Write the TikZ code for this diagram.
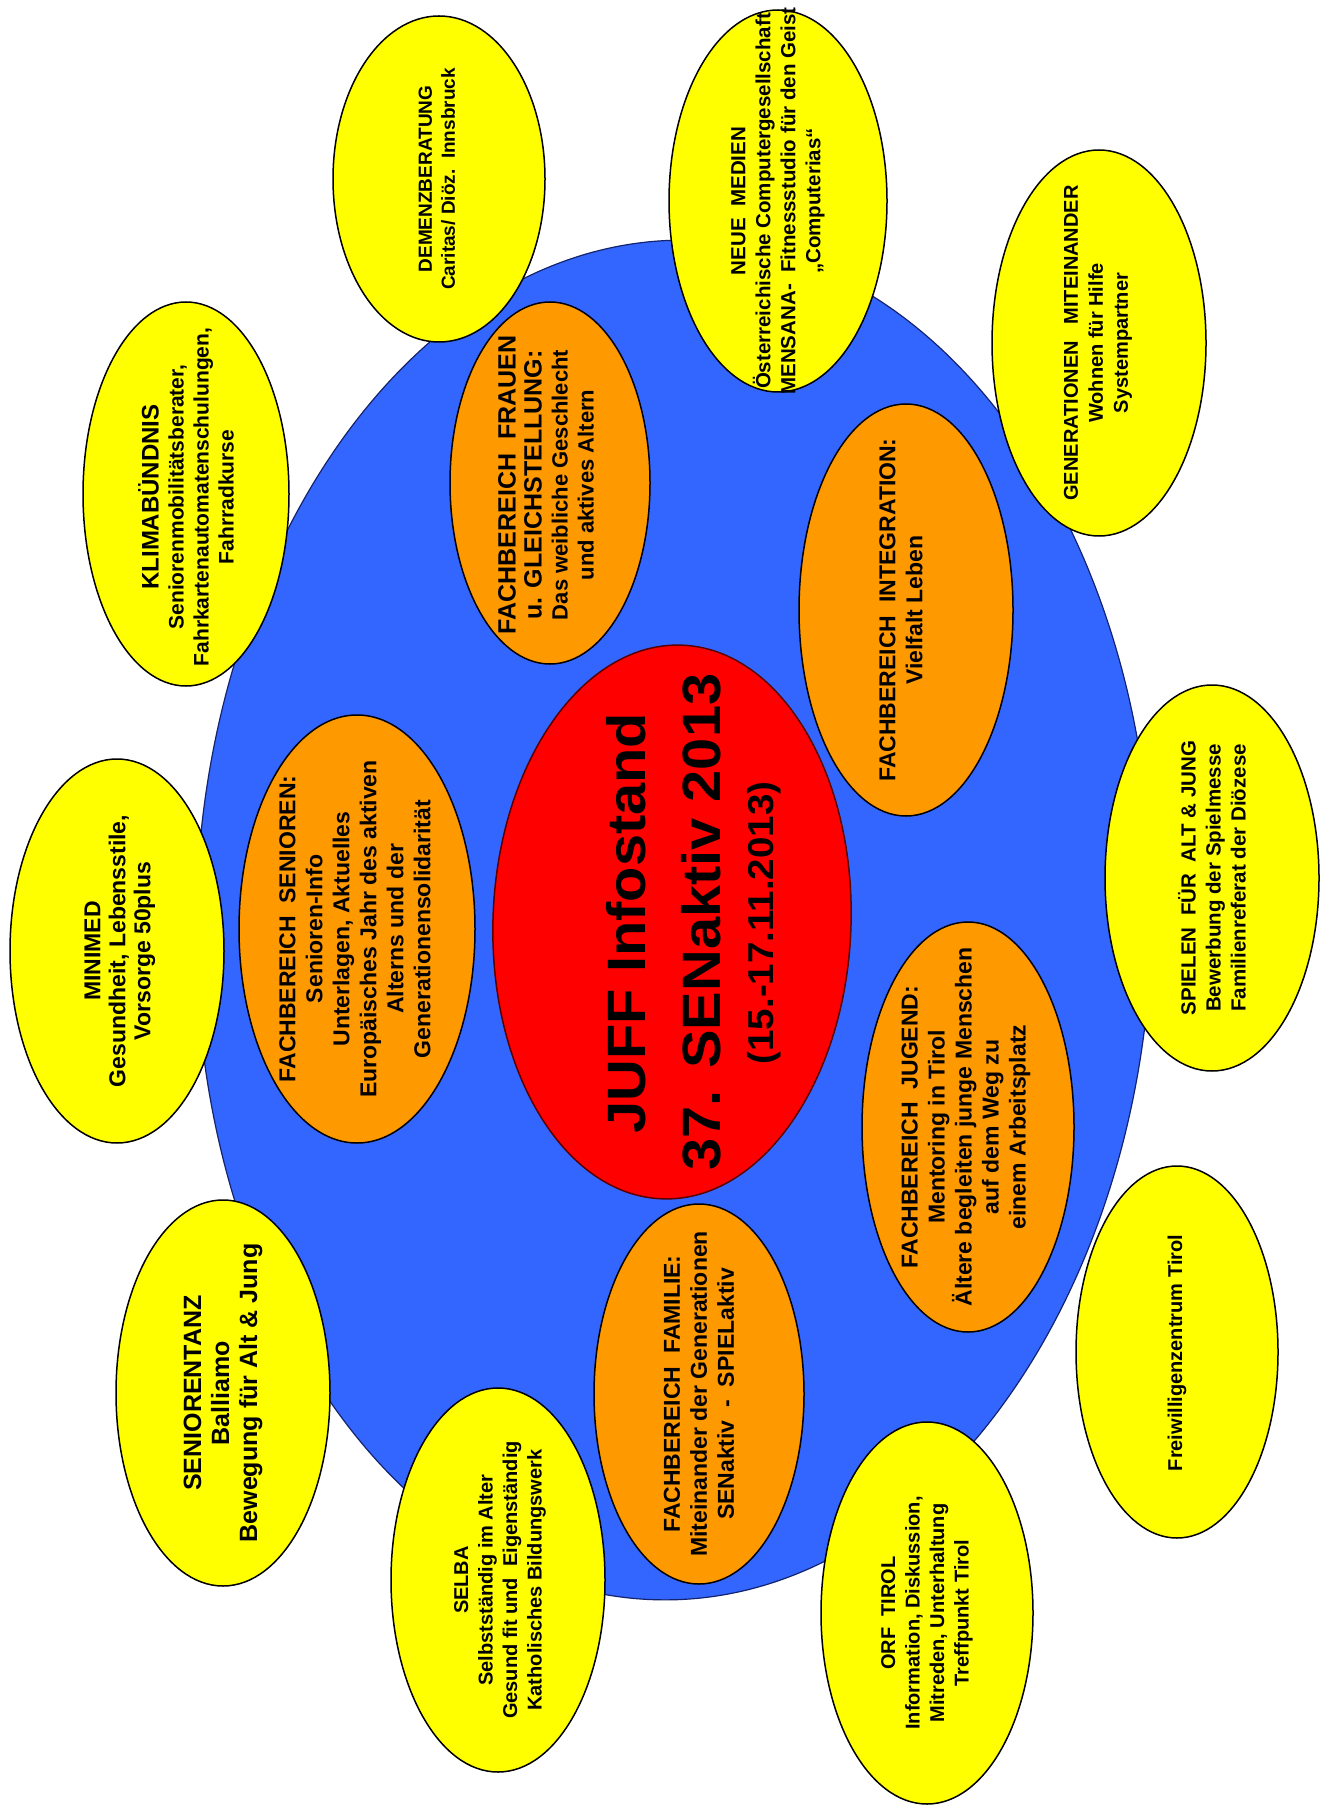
\documentclass[tikz,border=0pt]{standalone}
\usepackage{fontspec}
\setmainfont{Liberation Sans}
\newfontfamily\titlefont[FakeStretch=1.07]{Liberation Sans}
\usetikzlibrary{shapes.geometric}
\definecolor{bluec}{RGB}{51,102,255}
\definecolor{blueedge}{RGB}{20,35,110}
\definecolor{redc}{RGB}{255,0,0}
\definecolor{rededge}{RGB}{90,0,0}
\definecolor{orangec}{RGB}{255,153,0}
\definecolor{yellowc}{RGB}{255,255,0}
\tikzset{
  yel/.style={ellipse, draw=black, line width=0.75pt, fill=yellowc, rotate=90, inner sep=0pt},
  ora/.style={ellipse, draw=black, line width=0.75pt, fill=orangec, rotate=90, inner sep=0pt},
  sz/.style 2 args={minimum width=#1pt, minimum height=#2pt},
  ytxt/.style={rotate=90, align=center, inner sep=0pt, font=\bfseries\fontsize{10}{12.25}\selectfont},
  otxt/.style={rotate=90, align=center, inner sep=0pt, font=\bfseries\fontsize{11.5}{13.5}\selectfont},
  ttl/.style={rotate=90, anchor=base, inner sep=0pt},
}
\begin{document}
\begin{tikzpicture}[x=0.5pt,y=-0.5pt]
\useasboundingbox (0,0) rectangle (1329,1807);
\fill[white] (0,0) rectangle (1329,1807);

% big blue ellipse
\node[ellipse, fill=bluec, draw=blueedge, line width=0.6pt, minimum width=478pt, minimum height=680pt, rotate=-1.5, inner sep=0pt] (blue) at (674,920) {};

% outer yellow ellipses
\node[yel, sz={163}{106}] (demE) at (439,179) {};
\node[ytxt, font=\bfseries\fontsize{9.5}{11.5}\selectfont] (demT) at (437,179) {DEMENZBERATUNG\\Caritas/ Diöz.~~Innsbruck};

\node[yel, sz={192}{103}] (kliE) at (186,494) {};
\node[ytxt, font=\bfseries\fontsize{10.5}{12.5}\selectfont] (kliT) at (186,497) {{\fontsize{12}{13.5}\selectfont KLIMABÜNDNIS}\\Seniorenmobilitätsberater,\\Fahrkartenautomatenschulungen,\\Fahrradkurse};

\node[yel, sz={191}{109}] (neuE) at (778,201) {};
\node[ytxt, font=\bfseries\fontsize{10.25}{12.5}\selectfont] (neuT) at (778,201) {NEUE~~MEDIEN\\Österreichische Computergesellschaft\\MENSANA-~~Fitnessstudio für den Geist\\„Computerias“};

\node[yel, sz={193}{107}] (genE) at (1099,343) {};
\node[ytxt, font=\bfseries\fontsize{10}{12.5}\selectfont] (genT) at (1098,343) {GENERATIONEN~~~MITEINANDER\\Wohnen für Hilfe\\Systempartner};

\node[yel, sz={192}{107}] (minE) at (117,951) {};
\node[ytxt, font=\bfseries\fontsize{11.5}{12.5}\selectfont] (minT) at (120,951) {MINIMED\\Gesundheit, Lebensstile,\\Vorsorge 50plus};

\node[yel, sz={193}{107}] (spiE) at (1212,878) {};
\node[ytxt, font=\bfseries\fontsize{10.25}{12.5}\selectfont] (spiT) at (1212,878) {SPIELEN~~FÜR~~ALT \& JUNG\\Bewerbung der Spielmesse\\Familienreferat der Diözese};

\node[yel, sz={186}{101}] (freE) at (1177,1352) {};
\node[ytxt] (freT) at (1177,1353) {Freiwilligenzentrum Tirol};

\node[yel, sz={191}{106}] (orfE) at (927,1613) {};
\node[ytxt] (orfT) at (927,1613) {ORF~~TIROL\\Information, Diskussion,\\Mitreden, Unterhaltung\\Treffpunkt Tirol};

\node[yel, sz={192}{107}] (selE) at (498,1580) {};
\node[ytxt] (selT) at (500,1580) {SELBA\\Selbstständig im Alter\\Gesund fit und~~Eigenständig\\Katholisches Bildungswerk};

\node[yel, sz={193}{107}] (tanE) at (223,1393) {};
\node[ytxt, font=\bfseries\fontsize{12.5}{14}\selectfont] (tanT) at (223,1393) {SENIORENTANZ\\Balliamo\\Bewegung für Alt \& Jung};

% orange ellipses
\node[ora, sz={181}{100}] (fraE) at (550,483) {};
\node[otxt, font=\bfseries\fontsize{11}{13}\selectfont] (fraT) at (546,485) {{\fontsize{12.5}{13.5}\selectfont FACHBEREICH~~FRAUEN}\\{\fontsize{12.5}{13.5}\selectfont u. GLEICHSTELLUNG:}\\Das weibliche Geschlecht\\und aktives Altern};

\node[ora, sz={214}{118}] (senE) at (357,929) {};
\node[otxt] (senT) at (355,929) {FACHBEREICH~~SENIOREN:\\Senioren-Info\\Unterlagen, Aktuelles\\Europäisches Jahr des aktiven\\Alterns und der\\Generationensolidarität};

\node[ora, sz={206}{107}] (intE) at (906,610) {};
\node[otxt] (intT) at (901,610) {FACHBEREICH~~INTEGRATION:\\Vielfalt Leben};

\node[ora, sz={205}{106}] (jugE) at (968,1127) {};
\node[otxt] (jugT) at (966,1127) {FACHBEREICH~~JUGEND:\\Mentoring in Tirol\\Ältere begleiten junge Menschen\\auf dem Weg zu\\einem Arbeitsplatz};

\node[ora, sz={190}{105}] (famE) at (699,1394) {};
\node[otxt] (famT) at (699,1394) {FACHBEREICH~~FAMILIE:\\Miteinander der Generationen\\SENaktiv~~-~~SPIELaktiv};

% central red ellipse
\node[ellipse, fill=redc, draw=rededge, line width=0.75pt, minimum width=179pt, minimum height=277pt, rotate=-2, inner sep=0pt] (redE) at (672,922) {};
\node[ttl, font=\titlefont\bfseries\fontsize{27}{30}\selectfont] (title1) at (645,923) {JUFF Infostand};
\node[ttl, font=\titlefont\bfseries\fontsize{27}{30}\selectfont] (title2) at (720,922) {37. SENaktiv 2013};
\node[ttl, font=\titlefont\bfseries\fontsize{18}{20}\selectfont] (title3) at (773,923) {(15.-17.11.2013)};
\end{tikzpicture}
\end{document}
